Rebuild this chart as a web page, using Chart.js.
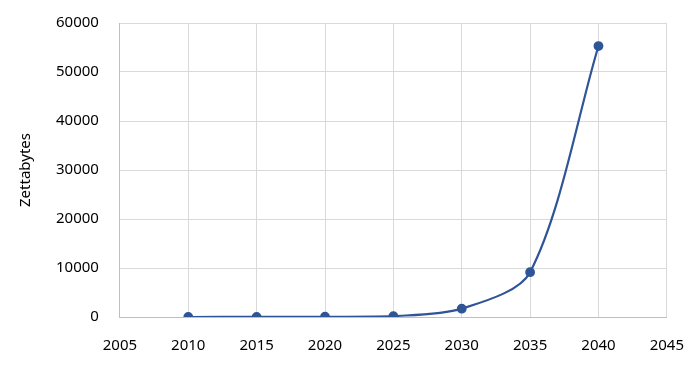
<!DOCTYPE html>
<html>
<head>
<meta charset="utf-8">
<script src="https://cdn.jsdelivr.net/npm/chart.js@4/dist/chart.umd.min.js"></script>
<style>
  html, body { margin: 0; padding: 0; background: #fff; overflow: hidden; }
  #wrap { width: 704px; height: 378px; margin-top: -7px; }
</style>
</head>
<body>
<div id="wrap"><canvas id="chart"></canvas></div>
<script>
const years = [2010, 2015, 2020, 2025, 2030, 2035, 2040];
const zettabytes = [2, 15, 50, 180, 1700, 9150, 55300];
const xTicks = [2005, 2010, 2015, 2020, 2025, 2030, 2035, 2040, 2045];
const yTicks = [0, 10000, 20000, 30000, 40000, 50000, 60000];

const lineColor = "#2f5597";
const gridColor = "#d9d9d9";
const font = { family: "'Noto Sans', 'Open Sans', sans-serif", size: 15 };

const ctx = document.getElementById("chart").getContext("2d");
new Chart(ctx, {
  type: "line",
  data: {
    datasets: [{
      label: "Zettabytes",
      data: years.map((y, i) => ({ x: y, y: zettabytes[i] })),
      borderColor: lineColor,
      backgroundColor: lineColor,
      borderWidth: 2.2,
      pointRadius: 3.8,
      pointHoverRadius: 3.8,
      tension: 0.3,
      fill: false
    }]
  },
  options: {
    responsive: true,
    maintainAspectRatio: false,
    animation: false,
    layout: { padding: { top: 0, right: 12, bottom: -4, left: 17 } },
    plugins: {
      legend: { display: false },
      tooltip: { enabled: false }
    },
    scales: {
      x: {
        type: "linear",
        min: xTicks[0],
        max: xTicks[xTicks.length - 1],
        afterBuildTicks: axis => { axis.ticks = xTicks.map(v => ({ value: v })); },
        ticks: { color: "#000", font: font, padding: 20, callback: v => String(v) },
        grid: { color: gridColor, drawTicks: false },
        border: { color: "#bfbfbf" }
      },
      y: {
        min: yTicks[0],
        max: yTicks[yTicks.length - 1],
        afterBuildTicks: axis => { axis.ticks = yTicks.map(v => ({ value: v })); },
        ticks: { color: "#000", font: font, padding: 21, callback: v => String(v) },
        grid: { color: gridColor, drawTicks: false },
        border: { color: "#bfbfbf" },
        title: { display: true, text: "Zettabytes", color: "#000", font: { family: font.family, size: 15 }, padding: { top: 0, bottom: 0 } }
      }
    }
  }
});
</script>
</body>
</html>
